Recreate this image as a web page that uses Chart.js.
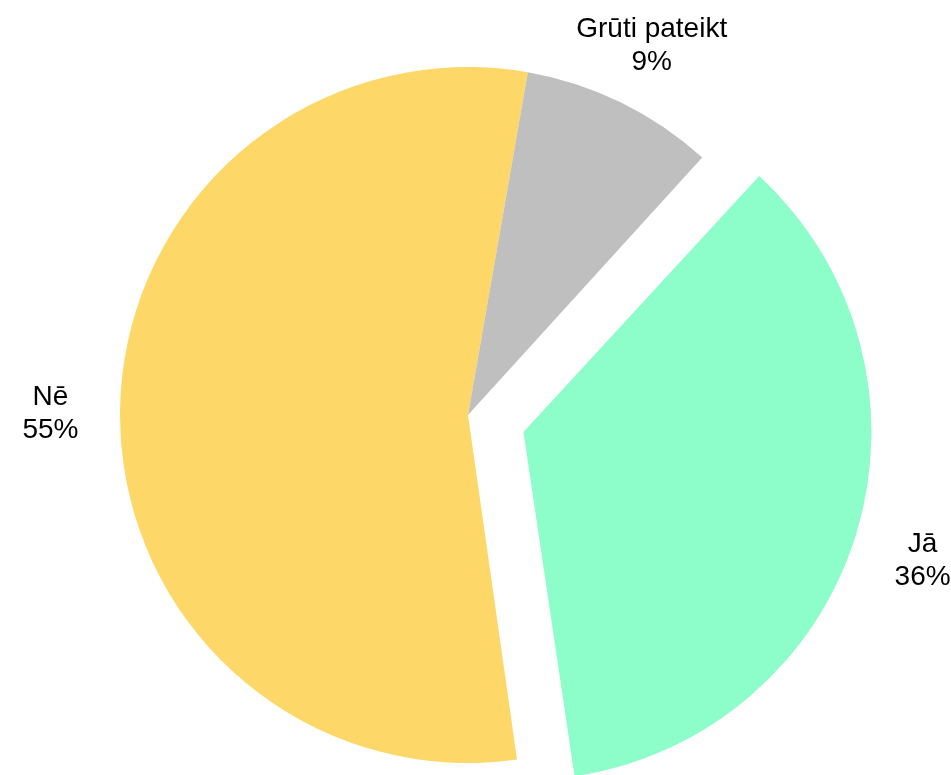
<!DOCTYPE html>
<html>
<head>
<meta charset="utf-8">
<script src="https://cdn.jsdelivr.net/npm/chart.js@4"></script>
<style>
  html, body { margin: 0; padding: 0; background: #fff; }
  #wrap { width: 951px; height: 775px; position: relative; }
</style>
</head>
<body>
<div id="wrap"><canvas id="pie"></canvas></div>
<script>
// ── Data ─────────────────────────────────────────────────────
const labels  = ['Jā', 'Nē', 'Grūti pateikt'];
const values  = [36, 55, 9];
const colors  = ['#8dfdc9', '#fdd868', '#bfbfbf'];
const explode = [58, 0, 0];   // px the slice is pulled out

// Chart.js grows an offset arc's radius by offset*(1 - sin(circumference));
// take that back so the pulled-out slice keeps the same radius as the rest.
const keepRadius = {
  id: 'keepRadius',
  afterUpdate(chart) {
    const meta = chart.getDatasetMeta(0);
    const base = meta.controller.outerRadius;
    meta.data.forEach((arc, i) => {
      const fix = 1 - Math.sin(Math.min(Math.PI, arc.circumference || 0));
      arc.outerRadius = base - explode[i] * fix;
    });
  }
};

// ── Outside labels: name + percent, centred on the slice bisector ──
const outsideLabels = {
  id: 'outsideLabels',
  afterDatasetsDraw(chart) {
    const ctx = chart.ctx;
    const meta = chart.getDatasetMeta(0);
    const R = meta.controller.outerRadius;
    const total = values.reduce((a, b) => a + b, 0);
    ctx.save();
    ctx.font = '28px "Liberation Sans", Arial, sans-serif';
    ctx.fillStyle = '#000';
    ctx.textAlign = 'center';
    ctx.textBaseline = 'alphabetic';
    const lineH = 33;
    meta.data.forEach((arc, i) => {
      const mid = (arc.startAngle + arc.endAngle) / 2;
      const cos = Math.cos(mid), sin = Math.sin(mid);
      const d = explode[i] + R * 1.2;
      const x = arc.x + cos * d;
      const y = arc.y + sin * d + 4;
      const lines = [labels[i], Math.round(values[i] / total * 100) + '%'];
      // two-line block, vertically centred on (x, y)
      const top = y - lines.length * lineH / 2;
      lines.forEach((t, j) => ctx.fillText(t, x, top + (j + 1) * lineH - 7));
    });
    ctx.restore();
  }
};

new Chart(document.getElementById('pie'), {
  type: 'pie',
  data: {
    labels,
    datasets: [{
      data: values,
      backgroundColor: colors,
      borderWidth: 0,
      offset: explode.map(v => v * 4),   // arc element divides offset by 4
      clip: false
    }]
  },
  options: {
    responsive: true,
    maintainAspectRatio: false,
    animation: false,
    rotation: 42.3,
    radius: 348,
    layout: { padding: { left: 0, right: 15, top: 55, bottom: 0 } },
    plugins: {
      legend: { display: false },
      tooltip: { enabled: false }
    }
  },
  plugins: [keepRadius, outsideLabels]
});
</script>
</body>
</html>
